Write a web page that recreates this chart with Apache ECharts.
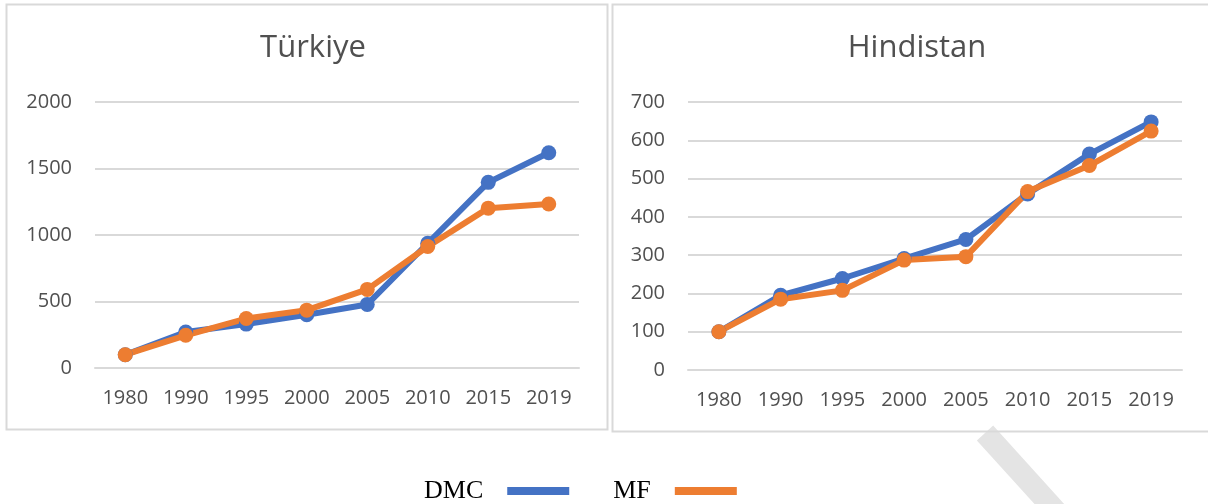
<!DOCTYPE html>
<html>
<head>
<meta charset="utf-8">
<script src="https://cdn.jsdelivr.net/npm/echarts@6/dist/echarts.min.js"></script>
<style>
html,body{margin:0;padding:0;background:#fff;}
#c{width:1208px;height:504px;}
</style>
</head>
<body>
<div id="c"></div>
<script>
const years = ['1980','1990','1995','2000','2005','2010','2015','2019'];
const turkiyeDMC = [100, 270, 330, 400, 478, 938, 1396, 1618];
const turkiyeMF  = [100, 246, 372, 435, 591, 913, 1202, 1233];
const hindistanDMC = [100, 195, 239, 291, 341, 460, 564, 648];
const hindistanMF  = [100, 185, 208, 287, 296, 466, 534, 624];
const titles = ['Türkiye', 'Hindistan'];
const seriesNames = ['DMC', 'MF'];

const BLUE = '#4472C4', ORANGE = '#ED7D31';
const labelFont = 'Open Sans';
const TXT = '#505050';
const chart = echarts.init(document.getElementById('c'), null, {renderer:'canvas'});

function xAxis(gi){
  return {
    type:'category', gridIndex:gi, data:years, boundaryGap:true,
    axisLine:{show:true, lineStyle:{color:'#d9d9d9', width:2}},
    axisTick:{show:false},
    axisLabel:{color:TXT, fontSize:20, fontFamily:labelFont, margin:20}
  };
}
function yAxis(gi, max, interval){
  return {
    type:'value', gridIndex:gi, min:0, max:max, interval:interval,
    axisLine:{show:false}, axisTick:{show:false},
    splitLine:{lineStyle:{color:'#d9d9d9', width:2}},
    axisLabel:{color:TXT, fontSize:20, fontFamily:labelFont, margin:23,
      formatter:function(v){ return String(v); }}
  };
}
function line(name, data, gi, color){
  return {
    name:name, type:'line', xAxisIndex:gi, yAxisIndex:gi, data:data,
    symbol:'circle', symbolSize:15, showSymbol:true,
    lineStyle:{color:color, width:6},
    itemStyle:{color:color},
    emphasis:{disabled:true}, animation:false, z:3
  };
}

chart.setOption({
  animation:false,
  title:[
    {text:titles[0], left:308, top:28, textAlign:'center',
     textStyle:{color:TXT, fontSize:31, fontWeight:'normal', fontFamily:labelFont}},
    {text:titles[1], left:912, top:28, textAlign:'center',
     textStyle:{color:TXT, fontSize:31, fontWeight:'normal', fontFamily:labelFont}}
  ],
  grid:[
    {left:95, right:629, top:102, bottom:136},
    {left:688, right:26, top:102, bottom:134}
  ],
  xAxis:[xAxis(0), xAxis(1)],
  yAxis:[yAxis(0, 2000, 500), yAxis(1, 700, 100)],
  legend:{
    data:seriesNames, left:419, top:473, align:'right', icon:'rect',
    itemWidth:62, itemHeight:8, itemGap:44,
    textStyle:{fontFamily:'Liberation Serif', fontSize:26, color:'#000', padding:[0,19,0,0]},
    selectedMode:false
  },
  graphic:[
    {type:'line', shape:{x1:985, y1:433, x2:1062, y2:518}, style:{stroke:'#e4e4e4', lineWidth:22}, z:-10},
    {type:'rect', shape:{x:6.5, y:4.5, width:601, height:425}, style:{fill:null, stroke:'#d9d9d9', lineWidth:2}, z:-5},
    {type:'rect', shape:{x:612.5, y:4.5, width:610, height:427}, style:{fill:null, stroke:'#d9d9d9', lineWidth:2}, z:-5}
  ],
  series:[
    line(seriesNames[0], turkiyeDMC, 0, BLUE),
    line(seriesNames[1], turkiyeMF, 0, ORANGE),
    line(seriesNames[0], hindistanDMC, 1, BLUE),
    line(seriesNames[1], hindistanMF, 1, ORANGE)
  ]
});
</script>
</body>
</html>
